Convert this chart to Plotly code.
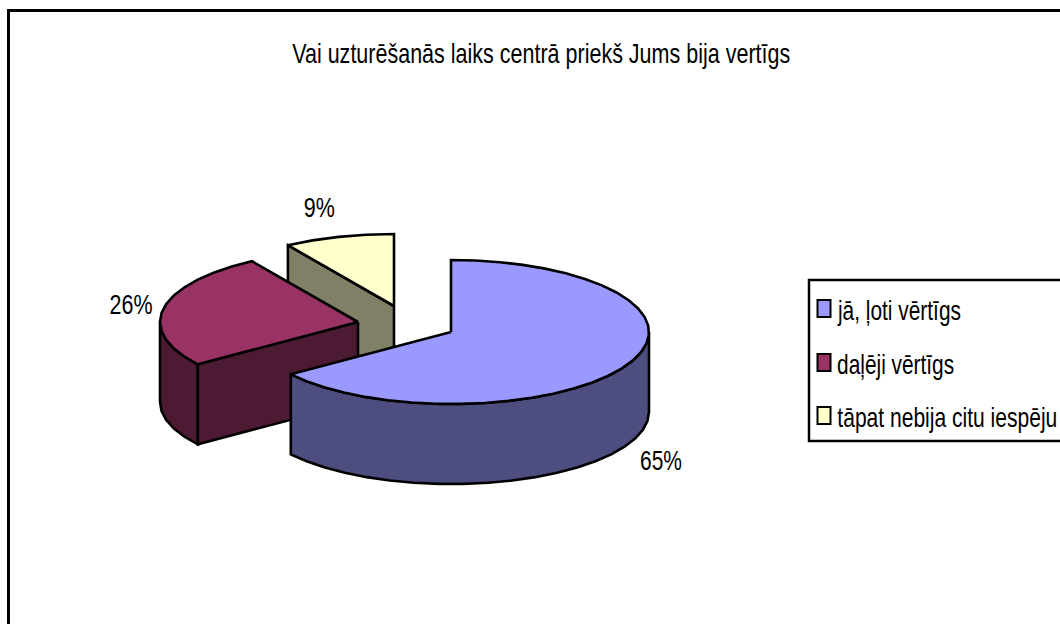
import numpy as np
import plotly.graph_objects as go

title_text = "Vai uzturēšanās laiks centrā priekš Jums bija vertīgs"
categories = ["jā, ļoti vērtīgs", "daļēji vērtīgs", "tāpat nebija citu iespēju"]
values = [65, 26, 9]
labels = ["65%", "26%", "9%"]

top_colors = ["#9999FF", "#993366", "#FFFFCC"]
side_colors = ["#4D4D80", "#4D1A33", "#808066"]
centers = [(451, 332), (358, 322), (394, 306)]
RX, RY, DEPTH = 198, 72, 80
FONT = "Liberation Sans, Arial"
FS = 28
# text centres and target widths as seen in the reference
title_box = (541, 53, 498)
label_boxes = [(661, 460, 42), (131, 304, 43), (319, 207, 31)]
legend_boxes = [(898.5, 310, 123), (895.5, 364, 117), (947, 417, 220)]

total = sum(values)
edges = np.cumsum([0] + values) / total * 360.0


def pt(c, deg, dz=0):
    t = np.radians(deg)
    return c[0] + RX * np.sin(t), c[1] - RY * np.cos(t) + dz


def arc(c, a, b, dz=0, step=7.0):
    n = max(2, int(abs(b - a) / step) + 1)
    x, y = pt(c, np.linspace(a, b, n), dz)
    return list(x), list(y)


fig = go.Figure()


def poly(x, y, color):
    fig.add_trace(go.Scatter(
        x=x + [x[0]], y=y + [y[0]], mode="lines", fill="toself",
        fillcolor=color, line=dict(color="black", width=2.6),
        hoverinfo="skip", showlegend=False))


def top(i):
    c = centers[i]
    x, y = arc(c, edges[i], edges[i + 1])
    poly([c[0]] + x, [c[1]] + y, top_colors[i])


def rim(i, a, b):
    c = centers[i]
    x1, y1 = arc(c, a, b)
    x2, y2 = arc(c, a, b, DEPTH)
    poly(x1 + x2[::-1], y1 + y2[::-1], side_colors[i])


def radial(i, deg):
    c = centers[i]
    ex, ey = pt(c, deg)
    poly([c[0], ex, ex, c[0]], [c[1], ey, ey + DEPTH, c[1] + DEPTH], side_colors[i])


# back to front
radial(2, edges[2])
top(2)
rim(1, edges[1], 270)
radial(1, edges[1])
top(1)
rim(0, 90, edges[1])
top(0)

shapes = [
    dict(type="path", path="M 8.5 640 L 8.5 10.5 L 1080 10.5", line=dict(color="black", width=3)),
    dict(type="rect", x0=809, x1=1080, y0=280, y1=441, line=dict(color="black", width=2.5)),
]
annotations = []
widths = []


def add_text(text, box):
    x, y, w = box
    annotations.append(dict(x=x, y=y, text=text, showarrow=False, xanchor="center", yanchor="middle",
                            font=dict(family=FONT, size=FS, color="black")))
    widths.append(w)


add_text(title_text, title_box)
for lab, box in zip(labels, label_boxes):
    add_text(lab, box)
for name, col, box in zip(categories, top_colors, legend_boxes):
    y = box[1]
    shapes.append(dict(type="rect", x0=817.5, x1=830.5, y0=y - 10, y1=y + 7,
                       fillcolor=col, line=dict(color="black", width=2)))
    add_text(name, box)

fig.update_layout(
    width=1060, height=624, margin=dict(l=0, r=0, t=0, b=0),
    paper_bgcolor="white", plot_bgcolor="white", showlegend=False,
    xaxis=dict(range=[0, 1060], visible=False, fixedrange=True),
    yaxis=dict(range=[624, 0], visible=False, fixedrange=True),
    shapes=shapes, annotations=annotations,
)
post = """
document.body.style.margin='0';
document.documentElement.style.overflow='hidden';
var w=%s;
document.querySelectorAll('text.annotation-text').forEach(function(t,i){
  t.setAttribute('textLength',w[i]);
  t.setAttribute('lengthAdjust','spacingAndGlyphs');
  var r=t.parentNode.querySelector('rect');
  if(r){
    var old=parseFloat(r.getAttribute('width'));
    r.setAttribute('x',parseFloat(r.getAttribute('x')||0)+(old-w[i])/2);
    r.setAttribute('width',w[i]);
  }
});
""" % widths
fig.write_html("out.html", post_script=post, config={"displayModeBar": False})
